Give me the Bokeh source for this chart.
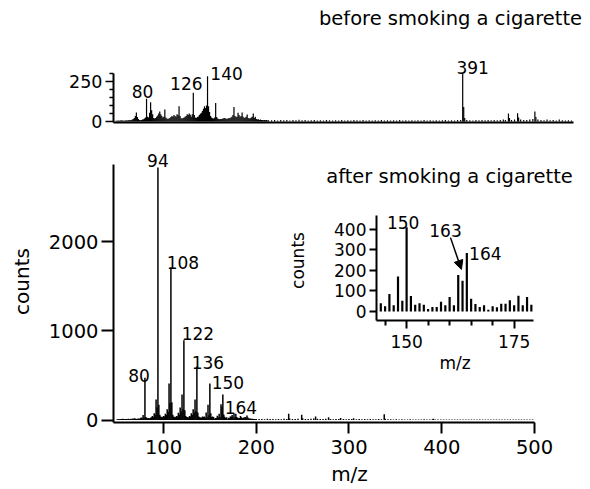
from bokeh.plotting import figure
from bokeh.layouts import column
from bokeh.models import ColumnDataSource, FixedTicker, Label, Arrow, NormalHead, Range1d
from bokeh.core.properties import value
from bokeh.embed import file_html
from bokeh.resources import INLINE

FONT = "DejaVu Sans"

# ---------------- data ----------------
# "after smoking a cigarette": dense part m/z 50..200 (one value per m/z)
after_mz_dense = list(range(50, 201))
after_counts_dense = [
    8, 6, 10, 8, 12, 10, 14, 12, 8, 10,            # 50-59
    12, 9, 14, 10, 12, 15, 12, 18, 14, 20,         # 60-69
    15, 12, 14, 18, 15, 20, 28, 22, 55, 30,        # 70-79
    475, 35, 25, 20, 22, 18, 25, 30, 45, 35,       # 80-89
    75, 60, 230, 140, 2830, 170, 60, 40, 35, 30,   # 90-99
    45, 40, 70, 55, 120, 90, 410, 190, 1710, 200,  # 100-109
    60, 40, 35, 30, 45, 40, 80, 60, 140, 95,       # 110-119
    285, 120, 895, 110, 45, 35, 30, 28, 45, 40,    # 120-129
    75, 55, 120, 85, 230, 100, 600, 85, 40, 30,    # 130-139
    28, 25, 40, 35, 40, 25, 85, 30, 170, 52,       # 140-149
    410, 75, 33, 40, 33, 12, 22, 22, 48, 30,       # 150-159
    70, 30, 178, 150, 285, 62, 36, 22, 30, 8,      # 160-169
    25, 20, 38, 38, 55, 30, 77, 30, 70, 33,        # 170-179
    25, 20, 22, 45, 30, 20, 25, 28, 35, 30,        # 180-189
    50, 28, 20, 15, 18, 12, 14, 10, 12, 9,         # 190-199
    12,                                            # 200
]
# sparse part above m/z 200
after_mz_sparse = [203, 206, 209, 212, 215, 218, 221, 224, 227, 230, 233, 235, 236, 239, 242, 245,
                   249, 250, 253, 256, 259, 262, 264, 266, 269, 272, 275, 278, 280, 283, 286, 289,
                   291, 294, 297, 300, 303, 305, 308, 311, 314, 317, 320, 323, 326, 329, 332, 335,
                   338, 339, 342, 345, 348, 351, 354, 357, 360, 363, 366, 369, 372, 375, 378, 381,
                   384, 387, 390, 391, 393, 396, 399, 402, 405, 408, 411, 414, 417, 420, 423, 426,
                   429, 432, 435, 438, 441, 444, 447, 450, 453, 456, 459, 462, 465, 468, 471, 474,
                   477, 480, 483, 486, 489, 492, 495, 498]
after_counts_sparse = [10, 12, 8, 14, 10, 12, 9, 11, 8, 14, 12, 70, 18, 10, 12, 15,
                       60, 20, 10, 12, 14, 18, 40, 15, 10, 12, 14, 30, 12, 9, 11, 10,
                       22, 10, 9, 12, 10, 20, 9, 10, 8, 11, 9, 10, 8, 9, 10, 8,
                       65, 15, 8, 9, 7, 8, 6, 8, 7, 6, 8, 7, 6, 7, 6, 8,
                       6, 7, 9, 14, 7, 6, 7, 6, 7, 5, 6, 5, 6, 5, 6, 5,
                       6, 5, 6, 5, 6, 5, 6, 5, 5, 6, 5, 6, 5, 5, 6, 5,
                       5, 6, 5, 5, 5, 5, 5, 5]

# "before smoking a cigarette"
before_mz_dense = list(range(50, 201))
before_counts_dense = [
    5, 4, 6, 5, 6, 8, 6, 7, 5, 6,                  # 50-59
    8, 6, 8, 10, 8, 10, 12, 15, 22, 35,            # 60-69
    56, 28, 15, 10, 8, 10, 12, 14, 18, 25,         # 70-79
    142, 30, 25, 55, 120, 70, 45, 22, 18, 22,      # 80-89
    30, 38, 50, 62, 45, 35, 25, 30, 75, 25,        # 90-99
    18, 15, 18, 22, 28, 35, 30, 40, 35, 30,        # 100-109
    45, 40, 96, 35, 20, 18, 22, 25, 30, 35,        # 110-119
    45, 40, 50, 42, 30, 45, 179, 40, 25, 22,       # 120-129
    28, 32, 40, 48, 55, 65, 80, 96, 85, 100,       # 130-139
    283, 95, 60, 35, 25, 20, 18, 25, 115, 28,      # 140-149
    18, 15, 14, 16, 15, 18, 20, 22, 18, 15,        # 150-159
    18, 22, 20, 25, 30, 40, 90, 35, 28, 30,        # 160-169
    55, 40, 30, 35, 56, 30, 22, 25, 30, 44,        # 170-179
    22, 18, 20, 25, 30, 50, 22, 30, 15, 12,        # 180-189
    14, 10, 12, 9, 10, 8, 10, 8, 9, 7,             # 190-199
    8,                                             # 200
]
before_mz_sparse = [203, 206, 209, 212, 215, 218, 221, 224, 227, 230, 233, 236, 239, 242, 245, 248,
                    251, 254, 257, 260, 263, 266, 269, 272, 275, 278, 281, 284, 287, 290, 293, 296,
                    299, 302, 305, 308, 311, 314, 317, 320, 323, 326, 329, 332, 335, 338, 341, 344,
                    347, 350, 353, 356, 359, 362, 365, 368, 371, 374, 377, 380, 383, 386, 389, 391,
                    392, 393, 395, 398, 401, 404, 407, 410, 413, 416, 419, 422, 425, 428, 431, 433,
                    436, 437, 439, 442, 445, 446, 448, 451, 454, 457, 460, 462, 463, 465, 468, 471,
                    474, 477, 480, 483, 486, 489, 492, 495, 498]
before_counts_sparse = [8, 10, 7, 9, 8, 10, 7, 9, 8, 11, 8, 9, 7, 8, 9, 7,
                        8, 7, 9, 8, 7, 8, 7, 9, 7, 8, 7, 9, 8, 7, 10, 7,
                        8, 7, 8, 7, 9, 7, 8, 7, 8, 7, 9, 7, 8, 7, 8, 7,
                        8, 7, 9, 7, 8, 7, 8, 7, 8, 9, 7, 8, 7, 9, 10, 300,
                        90, 22, 10, 8, 7, 9, 8, 10, 8, 9, 8, 10, 8, 9, 12, 10,
                        50, 22, 10, 12, 52, 25, 12, 10, 9, 12, 15, 62, 28, 12, 9, 8,
                        12, 8, 10, 7, 12, 8, 7, 8, 6]

after_mz = after_mz_dense + after_mz_sparse
after_counts = after_counts_dense + after_counts_sparse
before_mz = before_mz_dense + before_mz_sparse
before_counts = before_counts_dense + before_counts_sparse

inset_lo, inset_hi = 144, 179

after_labels = [80, 94, 108, 122, 136, 150, 164]
before_labels = [80, 126, 140, 391]
inset_labels = [150, 163, 164]
arrow_peak = 163

main_yticks = [0, 1000, 2000]
main_xticks = [100, 200, 300, 400, 500]
top_yticks = [0, 250]
top_yminor = [50, 100, 150, 200, 300]
inset_yticks = [0, 100, 200, 300, 400]
inset_xticks = [150, 175]
inset_xminor = [145, 155, 160, 165, 170]

# label pixel offsets (layout only)
after_dx = [-6, 0, 12, 14, 11, 18, 18]
after_dy = [-2, -7, -5, -7, -4, -1, 13]
before_dx = [-4, -7, 19, 10]
before_dy = [-7, -9, -3, -6]
inset_dx = [-3.5, -17, 18.5]
inset_dy = [-5, -50, 0]


def label_source(labels, mz, counts, dx, dy):
    lookup = dict(zip(mz, counts))
    return ColumnDataSource(dict(x=labels, y=[lookup[m] for m in labels],
                                 text=[str(m) for m in labels], dx=dx, dy=dy))


def style(p, ax_w=2):
    p.grid.visible = False
    p.outline_line_color = None
    p.background_fill_color = "white"
    p.border_fill_color = "white"
    for ax in (p.xaxis[0], p.yaxis[0]):
        ax.axis_line_width = ax_w
        ax.axis_line_color = "black"
        ax.major_tick_line_color = "black"
        ax.minor_tick_line_color = "black"
        ax.major_tick_in = 0
        ax.minor_tick_in = 0
        ax.major_label_text_font = FONT
        ax.major_label_text_color = "black"
        ax.axis_label_text_font = FONT
        ax.axis_label_text_font_style = "normal"
        ax.axis_label_text_color = "black"


# ---------------- top panel: before ----------------
top = figure(width=590, height=140, output_backend="svg", toolbar_location=None,
             frame_align=False,
             x_range=Range1d(47.5, 514.75), y_range=Range1d(-6.25, 693.75),
             min_border_left=113, min_border_right=2, min_border_top=10, min_border_bottom=18)
style(top)
top.segment(x0="mz", y0=0, x1="mz", y1="counts",
            source=ColumnDataSource(dict(mz=before_mz, counts=before_counts)),
            line_color="black", line_width=1.2)
top.xaxis.ticker = FixedTicker(ticks=[])
top.xaxis.major_tick_out = 0
top.xaxis.minor_tick_out = 0
top.xaxis.bounds = (47.5, 500)
top.yaxis.ticker = FixedTicker(ticks=top_yticks, minor_ticks=top_yminor)
top.yaxis.bounds = (-6.25, 300)
top.yaxis.major_tick_out = 8
top.yaxis.minor_tick_out = 4
top.yaxis.major_tick_line_width = 1.5
top.yaxis.minor_tick_line_width = 1.5
top.yaxis.major_label_text_font_size = "17.5px"
top.yaxis.major_label_standoff = 3
top.text(x="x", y="y", text="text", x_offset="dx", y_offset="dy",
         source=label_source(before_labels, before_mz, before_counts, before_dx, before_dy),
         text_font=value(FONT), text_font_size=value("17px"), text_align="center",
         text_baseline="alphabetic", text_color="black")
top.add_layout(Label(x=379.0, y=643.75, text="before smoking a cigarette", text_align="center",
                     text_baseline="middle", text_font=FONT, text_font_size="19.5px",
                     text_color="black"))

# ---------------- main panel: after ----------------
main = figure(width=590, height=348, output_backend="svg", toolbar_location=None,
              frame_align=False,
              x_range=Range1d(46.1, 555.0), y_range=Range1d(-28, 3134),
              min_border_left=113, min_border_right=5, min_border_top=0, min_border_bottom=65,
              x_axis_label="m/z", y_axis_label="counts")
style(main)
main.segment(x0="mz", y0=0, x1="mz", y1="counts",
             source=ColumnDataSource(dict(mz=after_mz, counts=after_counts)),
             line_color="black", line_width=1.5)
main.xaxis.ticker = FixedTicker(ticks=main_xticks)
main.xaxis.bounds = (46.1, 500)
main.xaxis.major_tick_out = 11
main.xaxis.major_tick_line_width = 2
main.xaxis.major_label_text_font_size = "19.5px"
main.xaxis.major_label_standoff = 6
main.xaxis.axis_label_text_font_size = "20px"
main.xaxis.axis_label_standoff = 5
main.yaxis.ticker = FixedTicker(ticks=main_yticks)
main.yaxis.bounds = (-28, 2860)
main.yaxis.major_tick_out = 12
main.yaxis.major_tick_line_width = 2
main.yaxis.major_label_text_font_size = "19.5px"
main.yaxis.major_label_standoff = 3
main.yaxis.axis_label_text_font_size = "20px"
main.yaxis.axis_label_standoff = 12
main.text(x="x", y="y", text="text", x_offset="dx", y_offset="dy",
          source=label_source(after_labels, after_mz, after_counts, after_dx, after_dy),
          text_font=value(FONT), text_font_size=value("17px"), text_align="center",
          text_baseline="alphabetic", text_color="black")
main.add_layout(Label(x=408.4, y=2726, text="after smoking a cigarette", text_align="center",
                      text_baseline="middle", text_font=FONT, text_font_size="19.5px",
                      text_color="black"))

# ---------------- inset ----------------
in_mz = [m for m in after_mz if inset_lo <= m <= inset_hi]
in_counts = [c for m, c in zip(after_mz, after_counts) if inset_lo <= m <= inset_hi]

inset = figure(width=289, height=195, output_backend="svg", toolbar_location=None,
               frame_align=False,
               x_range=Range1d(143, 179.5), y_range=Range1d(-44, 541),
               min_border_left=120, min_border_right=12, min_border_top=5, min_border_bottom=70,
               x_axis_label="m/z", y_axis_label="counts",
               styles={"position": "absolute", "left": "256px", "top": "195px", "z-index": "10"})
style(inset)
inset.background_fill_alpha = 0
inset.border_fill_alpha = 0
inset.segment(x0="mz", y0=0, x1="mz", y1="counts",
              source=ColumnDataSource(dict(mz=in_mz, counts=in_counts)),
              line_color="black", line_width=2.2)
inset.xaxis.ticker = FixedTicker(ticks=inset_xticks, minor_ticks=inset_xminor)
inset.xaxis.bounds = (143, 179.5)
inset.xaxis.major_tick_out = 8
inset.xaxis.minor_tick_out = 5
inset.xaxis.major_tick_line_width = 2
inset.xaxis.minor_tick_line_width = 2
inset.xaxis.major_label_text_font_size = "17px"
inset.xaxis.major_label_standoff = 6
inset.xaxis.axis_label_text_font_size = "17px"
inset.xaxis.axis_label_standoff = 2
inset.yaxis.ticker = FixedTicker(ticks=inset_yticks)
inset.yaxis.bounds = (-44, 468)
inset.yaxis.major_tick_out = 7
inset.yaxis.major_tick_line_width = 2
inset.yaxis.major_label_text_font_size = "17px"
inset.yaxis.major_label_standoff = 3
inset.yaxis.axis_label_text_font_size = "17px"
inset.yaxis.axis_label_standoff = 23
inset.text(x="x", y="y", text="text", x_offset="dx", y_offset="dy",
           source=label_source(inset_labels, after_mz, after_counts, inset_dx, inset_dy),
           text_font=value(FONT), text_font_size=value("17px"), text_align="center",
           text_baseline="alphabetic", text_color="black")
c_arrow = dict(zip(after_mz, after_counts))[arrow_peak]
inset.add_layout(Arrow(end=NormalHead(size=9, fill_color="black", line_color="black"),
                       x_start=arrow_peak - 2.8, y_start=c_arrow + 210,
                       x_end=arrow_peak - 0.25, y_end=c_arrow + 55,
                       line_color="black", line_width=1.5))

layout = column(top, main, inset, spacing=0)
open("out.html", "w").write(file_html(layout, INLINE))
